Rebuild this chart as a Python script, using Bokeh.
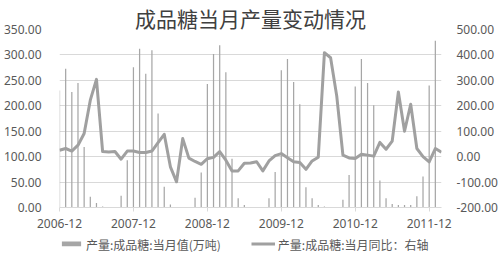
import numpy as np
from bokeh.plotting import figure
from bokeh.layouts import column
from bokeh.models import (Range1d, LinearAxis, FixedTicker, NumeralTickFormatter,
                          Legend, LegendItem, ColumnDataSource, Title)
from bokeh.embed import file_html
from bokeh.resources import INLINE

months = ["2006-12",
          "2007-01", "2007-02", "2007-03", "2007-04", "2007-05", "2007-06",
          "2007-07", "2007-08", "2007-09", "2007-10", "2007-11", "2007-12",
          "2008-01", "2008-02", "2008-03", "2008-04", "2008-05", "2008-06",
          "2008-07", "2008-08", "2008-09", "2008-10", "2008-11", "2008-12",
          "2009-01", "2009-02", "2009-03", "2009-04", "2009-05", "2009-06",
          "2009-07", "2009-08", "2009-09", "2009-10", "2009-11", "2009-12",
          "2010-01", "2010-02", "2010-03", "2010-04", "2010-05", "2010-06",
          "2010-07", "2010-08", "2010-09", "2010-10", "2010-11", "2010-12",
          "2011-01", "2011-02", "2011-03", "2011-04", "2011-05", "2011-06",
          "2011-07", "2011-08", "2011-09", "2011-10", "2011-11", "2011-12",
          "2012-01", "2012-02"]

# 产量:成品糖:当月值(万吨)
output_values = [230,
                 273, 227, 245, 119, 21, 9, 2, 1, 1, 23, 93, 276,
                 312, 263, 309, 185, 41, 6, 1, 1, 1, 19, 69, 243,
                 302, 319, 266, 96, 18, 5, 1, 1, 1, 18, 70, 270,
                 292, 247, 203, 40, 18, 5, 2, 1, 1, 15, 64, 238,
                 292, 245, 201, 53, 18, 7, 5, 5, 5, 22, 61, 240,
                 328, float("nan")]

# 产量:成品糖:当月同比(%)，右轴
yoy_values = [25,
              32, 22, 45, 91, 222, 304, 20, 18, 20, -10, 22, 22,
              16, 16, 22, 55, 88, -40, -99, 71, -6, -19, -30, -8,
              -3, 20, -14, -56, -56, -26, -25, -20, -56, -17, 4, 12,
              -4, -20, -23, -50, -17, -2, 409, 389, 238, 6, -5, -7,
              9, 6, 2, 56, 29, 61, 254, 100, 206, 32, 0, -21,
              32, 17]

title_text = "成品糖当月产量变动情况"
bar_label = "产量:成品糖:当月值(万吨)"
line_label = "产量:成品糖:当月同比：右轴"

x = list(range(len(months)))
src = ColumnDataSource(dict(x=x, out=output_values, yoy=yoy_values))

FONT = "Noto Sans CJK SC"
NUMFONT = "Noto Sans"
GRAY_TXT = "#595959"
BAR_COLOR = "#a6a6a6"
LINE_COLOR = "#a0a0a0"

p = figure(width=500, height=235, output_backend="svg",
           toolbar_location=None,
           x_range=Range1d(0, len(months) - 1), y_range=Range1d(0, 350),
           min_border_left=55, min_border_right=54, min_border_top=29,
           min_border_bottom=28)
p.title = Title(text=title_text, align="center", text_font=FONT,
                text_font_size="21px", text_font_style="normal",
                text_color="#404040", standoff=-6, offset=0)
p.outline_line_color = None
p.background_fill_color = "white"
p.border_fill_color = "white"
p.extra_y_ranges = {"right": Range1d(-200, 500)}

bars = p.vbar(x="x", top="out", bottom=0, width=0.2, source=src,
              fill_color=BAR_COLOR, line_color=None)
line = p.line(x="x", y="yoy", source=src, y_range_name="right",
              line_color=LINE_COLOR, line_width=3, line_join="round")

# x axis
xa = p.xaxis[0]
xa.ticker = FixedTicker(ticks=[i for i in x if i % 12 == 0])
xa.major_label_overrides = {i: months[i] for i in x if i % 12 == 0}
xa.axis_line_color = "#d9d9d9"
xa.major_tick_line_color = "#d9d9d9"
xa.major_tick_out = 4
xa.major_tick_in = 0
xa.minor_tick_line_color = None
xa.major_label_standoff = 7
xa.major_label_text_font = NUMFONT
xa.major_label_text_font_size = "12px"
xa.major_label_text_color = GRAY_TXT

# left axis
ya = p.yaxis[0]
ya.ticker = FixedTicker(ticks=list(range(0, 351, 50)))
ya.formatter = NumeralTickFormatter(format="0.00")
ya.axis_line_color = None
ya.major_tick_line_color = None
ya.minor_tick_line_color = None
ya.major_label_standoff = 12
ya.major_label_text_font = NUMFONT
ya.major_label_text_font_size = "12px"
ya.major_label_text_color = GRAY_TXT

# right axis
ra = LinearAxis(y_range_name="right",
                ticker=FixedTicker(ticks=list(range(-200, 501, 100))),
                formatter=NumeralTickFormatter(format="0.00"))
ra.axis_line_color = None
ra.major_tick_line_color = None
ra.minor_tick_line_color = None
ra.major_label_standoff = 9
ra.major_label_text_font = NUMFONT
ra.major_label_text_font_size = "12px"
ra.major_label_text_color = GRAY_TXT
p.add_layout(ra, "right")

p.xgrid.grid_line_color = None
p.ygrid.grid_line_color = "#d9d9d9"
p.ygrid.ticker = FixedTicker(ticks=list(range(0, 351, 50)))

# legend row: a strip below the chart; its renderers hold a single NaN row
# so only the legend swatches are visible
leg = figure(width=500, height=17, output_backend="svg", toolbar_location=None,
             x_range=Range1d(0, 1), y_range=Range1d(0, 1),
             x_axis_location=None, y_axis_location=None,
             min_border_left=55, min_border_right=0, min_border_top=0,
             min_border_bottom=0)
leg.outline_line_color = None
leg.grid.visible = False
nan = float("nan")
leg_src = ColumnDataSource(dict(x=[nan], out=[nan], yoy=[nan]))
lb = leg.vbar(x="x", top="out", width=0.2, source=leg_src,
              fill_color=BAR_COLOR, line_color=None)
ll = leg.line(x="x", y="yoy", source=leg_src, line_color=LINE_COLOR,
              line_width=3)
legend = Legend(items=[LegendItem(label=bar_label, renderers=[lb]),
                       LegendItem(label=line_label, renderers=[ll])],
                orientation="horizontal", location="left",
                label_text_font=FONT, label_text_font_size="12px",
                label_text_color=GRAY_TXT, glyph_width=24, glyph_height=6,
                label_standoff=3, spacing=30, padding=0, margin=0,
                border_line_color=None, background_fill_alpha=0)
leg.add_layout(legend, "center")

layout = column(p, leg, spacing=0)
open("out.html", "w").write(file_html(layout, INLINE))
